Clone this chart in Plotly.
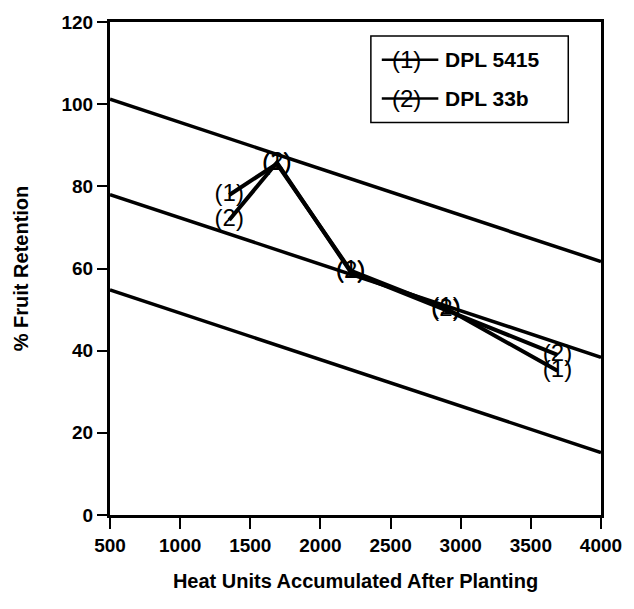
import plotly.graph_objects as go

# Data
heat_units = [1350, 1690, 2215, 2895, 3690]
dpl5415 = [77.9, 85.5, 59.5, 50.3, 35.1]
dpl33b = [71.8, 85.8, 59.2, 49.9, 39.0]
band_x = [500, 4000]
band_upper = [101.2, 61.7]
band_mid = [78.0, 38.4]
band_lower = [54.8, 15.2]
series_names = ["DPL 5415", "DPL 33b"]
series_marks = ["(1)", "(2)"]
x_ticks = [500, 1000, 1500, 2000, 2500, 3000, 3500, 4000]
y_ticks = [0, 20, 40, 60, 80, 100, 120]

fig = go.Figure()
for yb in (band_upper, band_mid, band_lower):
    fig.add_trace(go.Scatter(x=band_x, y=yb, mode="lines",
                             line=dict(color="black", width=3.5), showlegend=False))

for ys, mk in zip((dpl5415, dpl33b), series_marks):
    fig.add_trace(go.Scatter(x=heat_units, y=ys, mode="lines+text",
                             text=[mk] * len(ys), textposition="middle center",
                             textfont=dict(family="Liberation Sans", size=24, color="black"),
                             line=dict(color="black", width=4), showlegend=False))

# Custom legend
fig.add_shape(type="rect", xref="paper", yref="paper",
              x0=(373 - 110) / 495, x1=(572 - 110) / 495,
              y0=(515 - 120) / 496, y1=(515 - 33) / 496,
              line=dict(color="black", width=1.5), fillcolor="white", layer="above")
for i, (nm, mk) in enumerate(zip(series_names, series_marks)):
    ypx = 57 + i * 39
    yp = (515 - ypx) / 496
    fig.add_shape(type="line", xref="paper", yref="paper",
                  x0=(384 - 110) / 495, x1=(441 - 110) / 495, y0=yp, y1=yp,
                  line=dict(color="black", width=2.5), layer="above")
    fig.add_annotation(xref="paper", yref="paper", x=(409 - 110) / 495, y=yp,
                       text=mk, showarrow=False, xanchor="center", yanchor="middle",
                       font=dict(family="Liberation Sans", size=24, color="black"))
    fig.add_annotation(xref="paper", yref="paper", x=(446 - 110) / 495, y=yp,
                       text=nm, showarrow=False, xanchor="left", yanchor="middle",
                       font=dict(family="Liberation Sans", size=21, color="black", weight="bold"))

tick_font = dict(family="Liberation Sans", size=19, color="black", weight="bold")
axis_font = dict(family="Liberation Sans", size=20, color="black", weight="bold")
fig.update_xaxes(range=[500, 4000], tickvals=x_ticks, ticks="outside", ticklen=11,
                 tickwidth=2, tickcolor="black", showline=True, linewidth=3, linecolor="black",
                 mirror=True, showgrid=False, zeroline=False, tickfont=tick_font,
                 title=dict(text="Heat Units Accumulated After Planting", font=axis_font, standoff=20))
fig.update_yaxes(range=[0, 120], tickvals=y_ticks, ticks="outside", ticklen=10,
                 tickwidth=2, tickcolor="black", showline=True, linewidth=3, linecolor="black",
                 mirror=True, showgrid=False, zeroline=False, tickfont=tick_font,
                 title=dict(text="% Fruit Retention", font=axis_font, standoff=28))
fig.update_layout(width=634, height=609, margin=dict(l=110, r=29, t=19, b=94),
                  plot_bgcolor="white", paper_bgcolor="white", showlegend=False,
                  font=dict(family="Liberation Sans", color="black"))
fig.write_html("out.html")
